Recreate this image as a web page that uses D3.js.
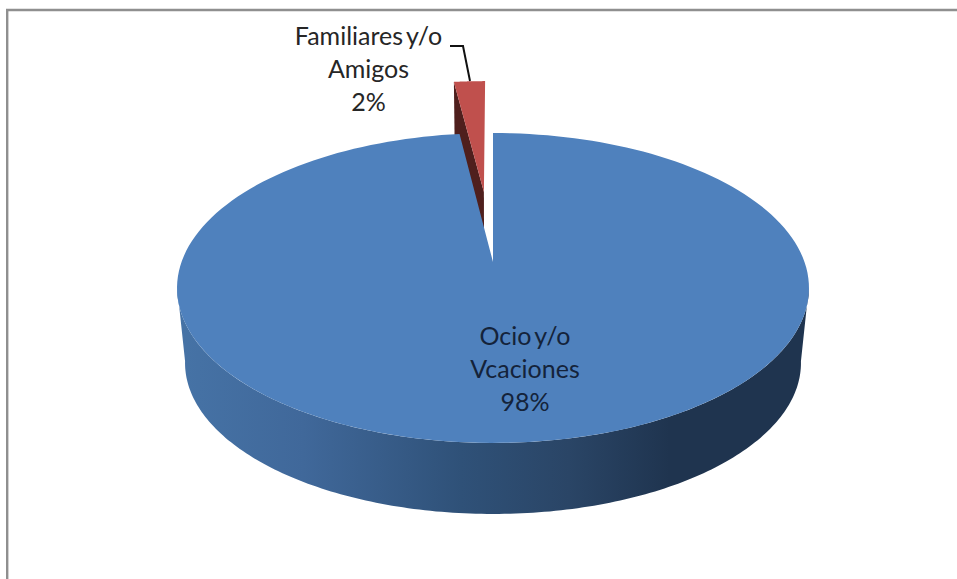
<!DOCTYPE html>
<html>
<head>
<meta charset="utf-8">
<script src="https://cdn.jsdelivr.net/npm/d3@7"></script>
<style>
  html, body { margin: 0; padding: 0; background: #fff; overflow: hidden; }
  svg { display: block; }
</style>
</head>
<body>
<svg id="chart"></svg>
<script>
const categories = ["Ocio y/o Vcaciones", "Familiares y/o Amigos"];
const values = [98, 2];
const percentLabels = ["98%", "2%"];
const labelLines = [["Ocio y/o", "Vcaciones", "98%"], ["Familiares y/o", "Amigos", "2%"]];

const width = 957;
const height = 579;

const svg = d3.select("#chart")
  .attr("width", width)
  .attr("height", height)
  .attr("viewBox", [0, 0, width, height]);

// chart frame, only top and left show in the crop
svg.append("path")
  .attr("d", `M7.2,${height}V10H${width}`)
  .attr("fill", "none")
  .attr("stroke", "#8f8f8f")
  .attr("stroke-width", 2.4);

// perspective view of the disc: u right, v towards the viewer, radius 1
const cx = 493;
const k = 0.1677;
const topPlane = { a: 311.5, b: 150.6, y0: 262 };
const bottomPlane = { a: 303.6, b: 146.8, y0: 337.6 };
const explode = 0.505;

function project(plane, u, v) {
  const w = 1 - k * v;
  return [cx + plane.a * u / w, plane.y0 + plane.b * v / w];
}

const line = d3.line();

const arcs = d3.pie().sort(null)(values);

// angle measured clockwise from 12 o'clock, with the slice pulled out along its bisector
function rimPoint(plane, angle, arc, pull) {
  const mid = (arc.startAngle + arc.endAngle) / 2;
  const u = Math.sin(angle) + pull * Math.sin(mid);
  const v = -Math.cos(angle) - pull * Math.cos(mid);
  return project(plane, u, v);
}

function apex(plane, arc, pull) {
  const mid = (arc.startAngle + arc.endAngle) / 2;
  return project(plane, pull * Math.sin(mid), -pull * Math.cos(mid));
}

function rim(plane, from, to, arc, pull) {
  return d3.range(0, 181).map(i => rimPoint(plane, from + (to - from) * i / 180, arc, pull));
}

// side of the disc, shaded left to right
const defs = svg.append("defs");
const sideGradient = defs.append("linearGradient")
  .attr("id", "side")
  .attr("gradientUnits", "userSpaceOnUse")
  .attr("x1", 177).attr("x2", 809).attr("y1", 0).attr("y2", 0);
[[0, "#4673a6"], [0.2, "#40689a"], [0.45, "#2f5178"], [0.62, "#2a4566"], [0.78, "#1f344f"], [1, "#1f344f"]]
  .forEach(([o, c]) => sideGradient.append("stop").attr("offset", o).attr("stop-color", c));

const blue = arcs[0];
const red = arcs[1];

// red slice goes first, the blue top covers the lower tip of its wall
const redWall = [
  apex(topPlane, red, explode),
  rimPoint(topPlane, red.startAngle, red, explode),
  rimPoint(bottomPlane, red.startAngle, red, explode),
  apex(bottomPlane, red, explode)
];
svg.append("path")
  .attr("d", line(redWall) + "Z")
  .attr("fill", "#4f1f1d");

const redTop = [apex(topPlane, red, explode)].concat(rim(topPlane, red.startAngle, red.endAngle, red, explode));
svg.append("path")
  .attr("d", line(redTop) + "Z")
  .attr("fill", "#c0504d");

// front side between the two silhouette points
const sideAngles = [Math.PI * 0.55, Math.PI * 1.45];
const sideShape = rim(topPlane, sideAngles[0], sideAngles[1], blue, 0)
  .concat(rim(bottomPlane, sideAngles[1], sideAngles[0], blue, 0));
svg.append("path")
  .attr("d", line(sideShape) + "Z")
  .attr("fill", "url(#side)");

const blueTop = [apex(topPlane, blue, 0)].concat(rim(topPlane, blue.startAngle, blue.endAngle, blue, 0));
svg.append("path")
  .attr("d", line(blueTop) + "Z")
  .attr("fill", "#4f81bd");

// leader line of the small slice
svg.append("path")
  .attr("d", line([[450, 46], [463, 46], [470, 81]]))
  .attr("fill", "none")
  .attr("stroke", "#111")
  .attr("stroke-width", 2);

// data labels
const labelPos = [{ x: 525, y: 345 }, { x: 368.5, y: 45 }];
const labels = svg.selectAll("text.label")
  .data(labelLines)
  .join("text")
  .attr("class", "label")
  .attr("text-anchor", "middle")
  .attr("fill", (d, i) => i === 0 ? "#14233a" : "#262626")
  .style("font-family", "Lato, Carlito, sans-serif")
  .style("font-size", "25px")
  .style("word-spacing", "-3px");

labels.selectAll("tspan")
  .data((d, i) => d.map((s, j) => ({ s, j, i })))
  .join("tspan")
  .attr("x", d => labelPos[d.i].x)
  .attr("y", d => labelPos[d.i].y + d.j * 33)
  .text(d => d.s);
</script>
</body>
</html>
